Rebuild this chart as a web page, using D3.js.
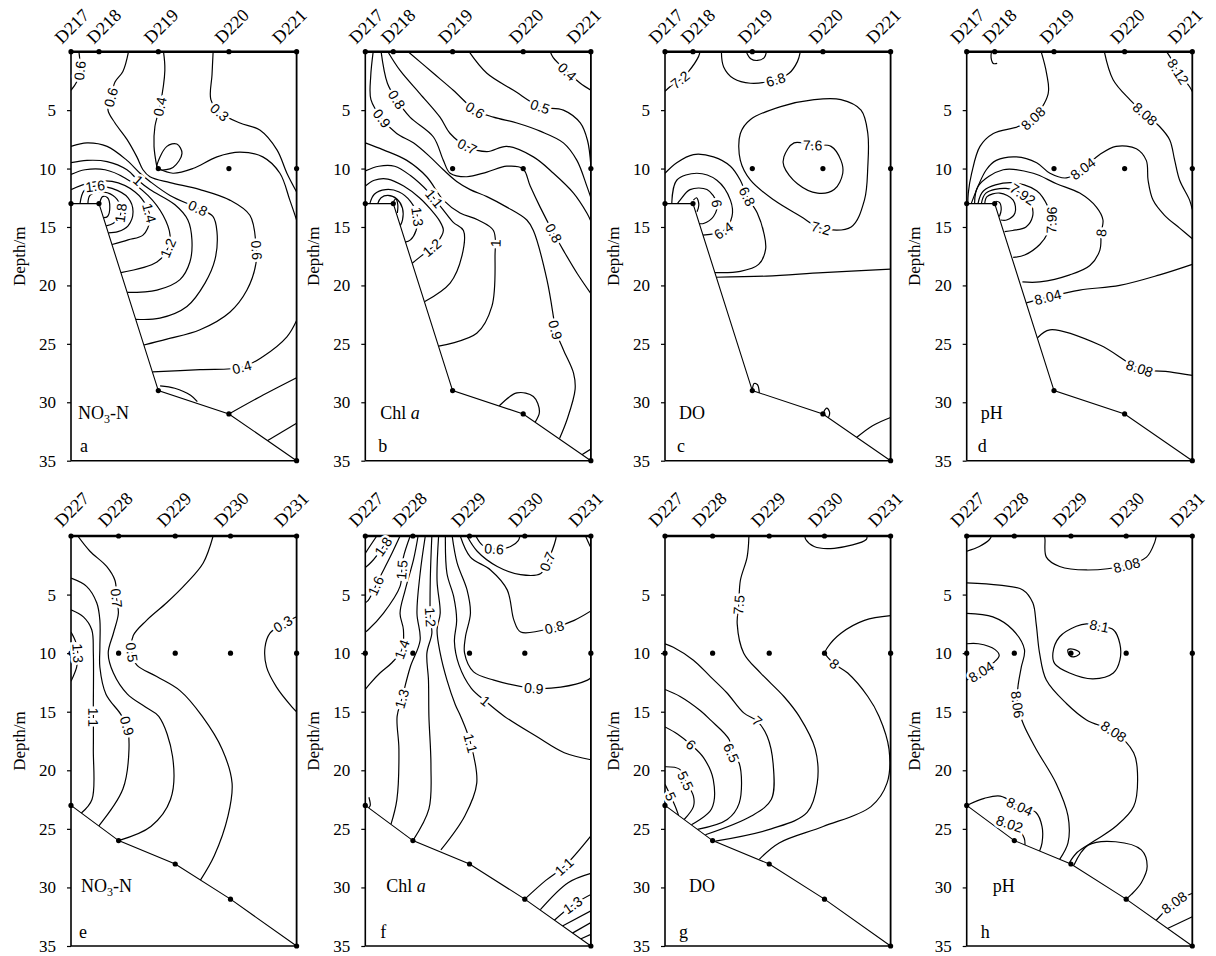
<!DOCTYPE html>
<html><head><meta charset="utf-8">
<script src="https://cdn.jsdelivr.net/npm/d3@7"></script>
<style>body{margin:0;background:#fff}</style>
</head><body>
<svg id="chart" width="1216" height="956"></svg>
<script>
// ---------------- data ----------------
const depthTicks = [5, 10, 15, 20, 25, 30, 35];
const topStations = ["D217", "D218", "D219", "D220", "D221"];
const topStationPos = [0, 12.4, 38.7, 70, 100];
const topBottomDepth = [13, 13, 29, 31, 35];
const topMidSamples = [false, false, true, true, true]; // sampled at 10 m
const botStations = ["D227", "D228", "D229", "D230", "D231"];
const botStationPos = [0, 21.1, 46.2, 70.7, 100];
const botBottomDepth = [23, 26, 28, 31, 35];
const botMidSamples = [true, true, true, true, true];

// contour lines: [distance % of section, depth m]; {loop:[...]} = closed
const no3TopLines = [
  [[3.5,0],[4,1.5],[2.5,2.6],[0,3.3]],
  [[25.5,0],[23,1.7],[19.5,2.6],[17.7,3.9],[16.4,5.0],[19.5,6.1],[24.8,7.5],[29.2,9.0],[31.9,10.1],[35,10.7],[43.9,11.2],[57.2,11.8],[70.4,12.7],[79.3,14.0],[82,16.5],[82,18.1],[78,20.4],[70.4,22.3],[57.2,23.8],[42.5,24.6],[32.3,25.1]],
  [[0,8.1],[7.1,7.8],[16,8.1],[24.8,9.3],[30.6,10.4],[35,11.1],[43.9,12.3],[56.3,13.4],[62.9,14.1],[64.7,15.4],[63.8,17.8],[59.4,19.8],[51.4,21.8],[39.4,22.8],[28.7,22.9]],
  [[0,9.5],[7.1,9.3],[16,9.4],[24.8,10.1],[29.7,11.0],[35,11.8],[46.1,13.1],[51.8,14.4],[53.6,16.1],[52.7,18.0],[48.3,19.5],[38.1,20.4],[24.9,20.6]],
  [[0,10.5],[6.2,10.1],[15.1,10.1],[23.9,10.8],[34.1,12.3],[40.8,14.0],[43.9,15.7],[43,16.8],[38.1,18.0],[22.1,18.9]],
  [[0,11.8],[8.4,11.2],[18.2,11.1],[28.4,12.0],[33.7,13.3],[35,14.4],[31.9,15.7],[25.3,16.1],[18.2,16.5]],
  [[4,13],[5.8,11.9],[10.6,11.5],[18.2,11.7],[25.3,12.5],[27.5,13.7],[25.3,14.9],[20.8,15.4],[16.5,15.5]],
  [[7.5,13],[8.4,12.3],[12.8,12.0],[18.6,12.3],[21.7,13.1],[21.7,14.1],[18.6,14.7],[15.6,14.9]],
  [[12.8,12.9],[14,12.4],[16.2,12.5],[17.2,13.3],[16.2,14.1],[14.5,14.2]],
  [[41,0],[41.6,1.6],[39.4,4.7],[37.2,6.4],[36.8,8.1],[38.1,9.9]],
  {loop:[[38.1,9.9],[42.5,8.1],[46.9,7.9],[49.2,8.7],[45.2,9.9],[39.4,10.1]]},
  [[38.7,10],[45.2,10.4],[54,10.0],[64.7,9.0],[74.9,8.6],[85,9.0],[92.6,10.4],[97,12.7],[100,14.4]],
  [[63,0],[62.5,2.0],[62,4.1],[66,5.2],[74.9,6.1],[83.7,6.7],[91.3,8.4],[95.7,10.4],[100,12.0]],
  [[36.1,27.4],[57.2,27.2],[75.8,27.0],[85,26.1],[95.7,24.4],[100,23.0]],
  [[39.5,28.6],[46,28.8],[53,29.4],[56,29.95]],
  [[70,31],[84,29.5],[100,27.9]],
  [[87,33.3],[100,31.8]]
];
const no3TopLabels = [["0.6",3.7,1.6],["0.6",17.7,3.9],["0.6",82,17],["0.4",39.4,4.7],["0.3",66,5.2],["0.8",56.3,13.4],["1",29.7,11.0],["1.2",43,16.8],["1.4",34.5,13.8],["1.6",10.6,11.5],["1.8",21.7,13.8],["0.4",75.8,27.0]];

const chlTopLines = [
  [[82,0],[83.3,0.5],[89.5,1.7],[95.3,2.7],[100,3.3]],
  [[46,0],[53.9,1.85],[65.7,3.3],[77.5,4.7],[87.8,5.0],[95.3,6.1],[98.5,7.6],[100,9.8]],
  [[19,0],[30.2,1.85],[39,3.3],[48.7,5.0],[56.8,5.6],[67.2,6.1],[77.5,6.8],[87.8,7.8],[93.8,9.3],[98.2,11.5],[100,12.5]],
  [[10,0],[15.4,1.6],[24.3,3.6],[33.1,5.6],[37.6,7.0],[45,8.1],[53.9,8.55],[62.7,8.1],[74.5,9.0],[83.4,10.4],[92.3,12.1],[98.2,13.8],[100,14.5]],
  [[7,0],[9.8,2.7],[13.9,4.1],[19.8,5.6],[30.2,7.3],[34.6,9.3],[37.6,10.4],[45,10.7],[53.9,10.3],[62.7,9.8],[69.8,10],[73.1,11.5],[77.5,13.3],[83.4,15.5],[87.8,17],[94,19],[100,20.7]],
  [[3.5,0],[2.4,2.1],[2.5,4.1],[7.3,5.7],[13.9,7.0],[21.3,7.8],[28.7,9.0],[34.6,10.1],[40.5,11.1],[46.5,11.8],[53.9,12.4],[62.7,13.3],[71.6,14.4],[74.5,15.3],[80.5,19.5],[83.4,22.7],[84.2,23.8],[87.8,25.5],[92.3,27.5],[93,28.9],[89.4,31.5],[86.1,33.1]],
  [[0,7.8],[8,8.4],[18.4,9.3],[27.2,10.7],[34.6,12.7],[42,13.8],[50,14.4],[56.8,15.3],[57.5,17.5],[56.1,21.8],[49.4,24.1],[32.5,25.2]],
  [[0,10.2],[6,9.8],[13,9.8],[20,10.6],[28,12.0],[34,13.4],[39,14.6],[43.5,15.3],[42.8,17.5],[37.6,19.8],[26.2,21.4]],
  [[0,11.5],[4,11.0],[10,10.9],[17,11.5],[24,12.5],[29,13.5],[33,14.5],[34.6,15.3],[32,16.3],[28.7,16.9],[24,17.6],[20.8,18.1]],
  [[2,13],[4,12.2],[9,11.8],[15,12.0],[20,12.8],[23,14.0],[22.5,15.3],[20,16.1],[17.6,16.3]],
  [[5.5,13],[7,12.5],[10,12.3],[14,12.6],[16.5,13.4],[16.5,14.4],[15.5,14.9]],
  [[12.6,12.8],[13.5,12.6],[14.4,13.1],[14.2,13.8]],
  [[59.4,30.3],[67.2,29.2],[74.5,29.5],[77.2,30.8],[75.3,31.7]],
  [[96,34.5],[100,34]]
];
const chlTopLabels = [["0.4",89.5,1.7],["0.5",77.5,4.7],["0.6",48.7,5.0],["0.7",45,8.1],["0.8",13.9,4.1],["0.9",7.3,5.7],["1.1",30.5,12.6],["1.3",23,14.1],["1.2",28.7,16.6],["1",57.2,16.4],["0.8",83.4,15.5],["0.9",84.2,23.8]];

const doTopLines = [
  [[15.5,0],[14.9,0.4],[10.4,1.7],[6.7,2.4],[2.2,3.0],[0,3.4]],
  [[25,0],[26,1.3],[30.4,2.3],[37.9,2.7],[49,2.4],[55,1.85],[58.7,0.85],[60,0]],
  [[36,0],[38,0.6],[41,0.75],[44,0.5],[45,0]],
  {loop:[[33.4,7.0],[37.9,5.8],[51.3,4.7],[66.1,4.1],[78,4.1],[86.9,5.0],[89.9,7.0],[89.9,9.8],[88.4,12.7],[82.5,15],[69.1,15.1],[60.2,14.1],[48.3,12.7],[37.9,11],[33.4,9.3]]},
  {loop:[[57.2,7.8],[65.4,8.0],[73.6,8.1],[78,9.3],[78.8,10.4],[75,11.8],[67.6,12.1],[58.7,11.3],[52.7,9.8],[52.7,9.0]]},
  [[0,10.4],[5.2,9.5],[12.6,8.8],[21.5,9.0],[29,9.8],[33.4,11.0],[36.4,12.4],[40.9,13.8],[43.8,15.5],[44.6,16.9],[41.5,18.2],[33.4,18.8],[22.1,18.9]],
  [[3,13],[5.2,11.0],[14.1,10.4],[23,11.0],[29,12.7],[29.7,14.1],[26,15.3],[16.8,15.7]],
  [[5.5,13],[6.7,12.7],[11.1,11.8],[18.6,11.8],[23,13.0],[21.5,14.1],[17.1,14.7],[15.1,14.7]],
  [[12.6,12.7],[14,12.5],[15,13.1],[14.2,13.7]],
  [[22.6,19.3],[45,19.2],[70,18.9],[100,18.6]],
  [[38.7,29],[39.5,28.4],[41,28.5],[41.8,29.2]],
  {loop:[[70.5,30.8],[71.8,30.5],[73,30.9],[72,31.4]]},
  [[85,33.0],[92,32.0],[100,31.3]]
];
const doTopLabels = [["7.2",6.7,2.4],["6.8",49,2.4],["7.6",65.4,8.0],["7.2",69.1,15.1],["6.8",36.4,12.4],["6",23,13.0],["6.4",26,15.3]];

const phTopLines = [
  [[11,0],[10.8,0.5],[11.8,1.0],[13.5,1.0]],
  [[33,0],[35.4,1.85],[36.1,3.6],[29.5,5.7],[22.8,6.4],[11.8,7.0],[5.9,8.1],[2.2,10.4],[0.7,12.1],[0.5,13]],
  [[61,0],[64.9,2.4],[72.3,4.1],[78.9,5.3],[85.5,6.4],[90,7.55],[92.2,9.3],[94.4,11],[98.8,12.7],[100,13.5]],
  [[88.5,0],[90,0.4],[93.7,1.7],[98.8,3.0],[100,3.4]],
  [[2,13],[8.7,10.1],[13.1,9.3],[22,9.0],[31,9.5],[36.9,10.4],[44.2,10.8],[51.6,10.0],[59,8.8],[66.2,8.1],[75.2,8.3],[79.6,9.3],[80.4,11],[82.6,12.7],[87.7,14],[94.4,15.1],[100,16]],
  [[3.5,13],[5.1,11.5],[16.2,10.1],[29.5,10.4],[39.8,11.3],[50.1,12.1],[57.5,13.3],[60.4,14.4],[59.6,15.5],[59,17],[54.6,18.3],[45.7,19.1],[32.4,19.7],[24.7,19.7]],
  [[5,13],[7.5,11.9],[19.2,11.2],[31,11.9],[36.1,13.3],[37.6,14.4],[36,15.5],[32.4,16.5],[25.7,17.4],[20.6,17.6]],
  [[6.5,13],[8.5,12.1],[17.4,11.7],[24.8,12.2],[28.5,13.0],[29.2,14.1],[26.3,15.0],[20.4,15.3],[16.8,15.4]],
  [[8,13],[9,12.4],[14.7,12.1],[20.6,12.7],[21.4,13.8],[17.7,14.4],[15.1,14.4]],
  [[12.9,12.8],[14.5,12.9],[15.3,13.5],[14.5,14.1]],
  [[26.4,21.5],[36,21],[50.1,20.4],[67.8,20],[85.5,19.1],[100,18.2]],
  [[31.3,24.5],[36.9,23.8],[59,25.1],[76.7,27.1],[90,27.4],[100,27.7]]
];
const phTopLabels = [["8.08",29.5,5.7],["8.08",78.9,5.3],["8.12",93.7,1.7],["8.04",51.6,10.0],["8",59.6,15.5],["7.96",37.6,14.4],["7.92",24.8,12.2],["8.04",36,21],["8.08",76.7,27.1]];

const no3BotLines = [
  [[3,0],[8.4,1.3],[15.8,2.6],[19.5,3.8],[20.2,5.3],[21,6.6],[18.8,8.3],[16.5,10.0],[18.8,11.7],[25,13.5],[33,14.6],[38.9,15.4],[45,18.8],[44.1,22.5],[35.4,24.8],[21.1,26]],
  [[0,3.6],[6.9,4.3],[11.4,5.7],[12.8,7.2],[12.8,9.5],[12.8,11.2],[15.5,13.5],[22,15.2],[24.8,16.2],[25.7,18.2],[23,21.6],[12.1,24.8]],
  [[0,6.3],[5.5,6.9],[9.2,8.0],[9.9,10],[9.9,14.6],[9.9,18.2],[9.3,22.5],[4.6,23.65]],
  [[0,8.2],[2,9],[3,10],[2.5,11.2],[0,12.4]],
  [[63,0],[58.6,2.3],[51.3,4.0],[42.4,5.7],[33.5,7.2],[27.6,8.5],[26.9,9.9],[29.1,11.0],[38,12.0],[48.3,13.2],[58.2,15.4],[67,18.2],[71.4,21.1],[69.6,23.9],[63.5,27.3],[57.3,29.4]],
  [[100,6.9],[94,7.5],[88.2,8.3],[86,9.5],[86.7,11.2],[91.1,12.9],[98,14.6],[100,15]]
];
const no3BotLabels = [["0.7",20.2,5.3],["0.5",26.9,9.9],["1.3",3,10],["1.1",9.9,15.5],["0.9",24.8,16.2],["0.3",94,7.5]];

const chlBotLines = [
  [[5.1,0],[0.6,1.3],[0,1.5]],
  [[11,0],[8,0.9],[2.8,2.2],[0,2.7]],
  [[15.4,0],[11,1.8],[6.5,3.5],[1.3,5.5],[0,5.7]],
  [[19.9,0],[16.9,1.8],[16.2,2.9],[15.4,4.3],[8,6.6],[1.3,8.0],[0,8.2]],
  [[23.4,0],[21.4,2.0],[17.7,4.6],[15.4,6.6],[16.9,8.0],[16.2,9.7],[11.9,10.8],[6.5,11.7],[2.1,12.6],[0,13.1]],
  [[26.6,0],[24.3,3.2],[22.9,6.6],[24.3,8.9],[19.9,11.2],[16.2,13.9],[14.1,15.4],[14.9,18.2],[14,22.5],[11.4,24.6]],
  [[29.5,0],[28.8,3.8],[28.8,6.9],[29.5,8.3],[27.3,10.0],[28,12.3],[28.2,15.4],[29.1,19.6],[28.2,23.3],[21.1,26]],
  [[32.5,0],[31.8,3.8],[33.2,6.6],[31.8,8.0],[33.2,10],[36.2,12.3],[39.9,14.4],[42.3,15.4],[46.7,17.7],[49.4,21.1],[44.1,23.9],[33.5,26.8]],
  [[35.5,0],[36.2,3.2],[39.2,5.2],[40.5,7.2],[39.5,9],[41.5,11],[47,13],[53.3,14.1],[61.7,15.4],[75.8,17.1],[88.2,18.5],[100,19.1]],
  [[38.5,0],[40.7,2.3],[45.1,4.6],[46.6,6.6],[44.4,8.6],[44,10],[48,11.6],[57,12.3],[74.8,13.0],[86.6,12.9],[98.5,12.3],[100,12.1]],
  [[42.1,0],[46.6,1.8],[55.5,2.9],[62.9,4.6],[65.9,7.2],[68.9,8.2],[83.7,7.8],[92.6,7.2],[100,6.4]],
  [[45.1,0],[49.6,1.3],[58.5,2.6],[68.8,3.3],[77.8,3.2],[80.7,2.2],[84.4,0.3],[84.6,0]],
  [[49,0],[52,0.8],[57,1.1],[64.4,0.9],[67.8,0.4],[68.5,0]],
  [[97.6,0],[99.7,0.9]],
  [[70.7,31],[80,29.4],[88.2,28.2],[100,25.6]],
  [[77.6,31.9],[89.9,29.6],[100,28.8]],
  [[83.8,32.8],[92,31.5],[100,30.6]],
  [[87.4,33.3],[100,32.0]],
  [[91.8,33.9],[100,33.0]],
  [[95.4,34.4],[100,34.0]],
  [[1.6,22.3],[2.2,23.0],[1.5,23.2]]
];
const chlBotLabels = [["1.8",8.8,1.0],["1.6",5,4.3],["1.5",16.2,2.9],["1.2",28.8,6.9],["1.4",16.2,9.7],["1.3",16.2,13.9],["1",53.3,14.1],["1.1",46.7,17.7],["0.9",74.8,13],["0.8",83.7,7.8],["0.7",80.7,2.2],["0.6",57,1.1],["1.1",88.2,28.2],["1.3",92,31.5]];

const doBotLines = [
  [[62,0],[62.4,0.3],[66.1,0.9],[75,1.05],[89.2,0.3],[89.5,0]],
  [[37.2,0],[36.4,1.8],[33.4,3.8],[32.7,5.9],[32,7.5],[34.9,10.0],[42.4,11.7],[52.7,13.7],[59.5,15.4],[66.6,18.2],[67.5,21.1],[63,23.6],[47.1,25.0],[22.3,26.05]],
  [[100,6.8],[88.4,7.2],[78,8.3],[72.1,9.5],[71,10],[75,10.9],[81,11.7],[89.9,13.7],[94.9,15.4],[99.3,18.2],[98.4,21.1],[91.3,23.1],[70.1,24.8],[50.6,26.2],[41.8,27.6]],
  [[0,9.2],[3.7,9.5],[12.6,10.6],[20.1,12.0],[27.5,13.4],[34.9,15.1],[40.9,15.8],[45.3,17.1],[48,19.6],[47.1,22.5],[38.3,23.9],[17.9,25.5]],
  [[0,13.1],[6.7,13.7],[15.6,14.9],[20.1,15.7],[28.5,17.4],[29.4,18.5],[32.9,19.4],[32.9,22.8],[27.6,24.2],[14.4,25.05]],
  [[0,16.3],[5.5,16.9],[11.4,17.8],[17,18.9],[21.4,20.8],[20.6,23.3],[11.7,24.65]],
  [[0,19.7],[6.4,19.9],[9.1,20.9],[12.6,22.2],[12.6,23.1],[8.5,24.2]],
  [[0,21.2],[2.5,22.2],[5,23.3],[6,23.85]]
];
const doBotLabels = [["7.5",32.7,5.9],["8",75,10.9],["7",40.9,15.8],["6.5",29.4,18.5],["6",11.4,17.8],["5.5",9.1,20.9],["5",2.5,22.2]];

const phBotLines = [
  [[0,1.3],[5.6,0.9],[10.1,0.3],[11,0]],
  [[34.5,0],[34.7,0.3],[35.3,1.8],[41.2,2.6],[53.1,2.9],[70.8,2.5],[79.7,1.8],[83.4,0.5],[84,0]],
  [[0,4.0],[14.5,4.2],[24.9,4.6],[29.3,5.7],[30.8,7.5],[32.3,10.0],[35.3,12.3],[44.2,14.3],[53.1,15.7],[65.2,16.7],[74,18.5],[75.7,20.2],[74,23.1],[66,24.8],[56.8,26.0],[49,27.0],[45.5,27.9]],
  [[0,6.6],[11.6,6.9],[20.4,8.0],[25.6,9.7],[24.2,11.2],[22.7,12.9],[22.5,14.4],[25.2,16.1],[30.8,18.2],[39.6,21.1],[44.9,23.9],[44.9,26.2],[41.2,27.6]],
  [[0,9.2],[5.2,9.2],[12.6,9.7],[14.4,10.2],[12,10.8],[6.4,11.6],[0,12.3]],
  {loop:[[38.2,10.0],[41.2,8.6],[48.6,7.7],[53.1,7.5],[59,7.7],[65,8.0],[67.9,9.2],[67.9,10.6],[65,11.7],[56,12.2],[45.6,11.7],[39,10.9]]},
  {loop:[[44.9,9.7],[47.9,9.7],[50.1,10],[47.9,10.3],[45.6,10.2]]},
  [[0,23],[7.8,22.4],[14.9,22.2],[23.6,23.1],[30.7,23.6],[33.4,24.8],[33.4,26.2],[32.3,26.9]],
  [[12.5,24.8],[17,24.5],[22,24.9],[25.5,25.8],[25.8,26.4]],
  [[47.5,28.1],[53.8,26.4],[66,26.1],[77.4,26.8],[80,28.2],[77.4,29.6],[73,30.6],[70.7,31]],
  [[84,32.8],[92,31.3],[100,30.5]],
  [[89,33.5],[100,32.5]]
];
const phBotLabels = [["8.08",70.8,2.5],["8.1",59,7.6],["8.04",6.4,11.6],["8.06",22.5,14.4],["8.08",65.2,16.7],["8.04",23.6,23.1],["8.02",19,24.6],["8.08",92,31.3]];

// ---------------- layout ----------------
const svg = d3.select("#chart");
const defs = svg.append("defs");
const rows = [
  {top: 51.7, bottom: 460.7, stations: topStations, pos: topStationPos, bed: topBottomDepth, mid: topMidSamples,
   labDx: [-9,-5,-7,-7,-17], labDy: -7, nameDy: 367, letterDy: 400},
  {top: 536, bottom: 946, stations: botStations, pos: botStationPos, bed: botBottomDepth, mid: botMidSamples,
   labDx: [-9,-13,-11,-9,-15], labDy: -8, nameDy: 356, letterDy: 402}
];
const lefts = [71, 365.3, 665, 966.7];
const panelW = 225.6;
const panels = [
  {row:0, col:0, lines:no3TopLines, labels:no3TopLabels, name:"no3", letter:"a", nameDx:7, letterDx:9},
  {row:0, col:1, lines:chlTopLines, labels:chlTopLabels, name:"chl", letter:"b", nameDx:15, letterDx:13},
  {row:0, col:2, lines:doTopLines, labels:doTopLabels, name:"DO", letter:"c", nameDx:14, letterDx:12},
  {row:0, col:3, lines:phTopLines, labels:phTopLabels, name:"pH", letter:"d", nameDx:14, letterDx:11},
  {row:1, col:0, lines:no3BotLines, labels:no3BotLabels, name:"no3", letter:"e", nameDx:10, letterDx:8},
  {row:1, col:1, lines:chlBotLines, labels:chlBotLabels, name:"chl", letter:"f", nameDx:21, letterDx:15},
  {row:1, col:2, lines:doBotLines, labels:doBotLabels, name:"DO", letter:"g", nameDx:24, letterDx:14},
  {row:1, col:3, lines:phBotLines, labels:phBotLabels, name:"pH", letter:"h", nameDx:26, letterDx:14}
];

const serif = "'Liberation Serif','Times New Roman',serif";
const sans = "'Liberation Sans',Arial,sans-serif";

panels.forEach((p, i) => {
  const R = rows[p.row];
  const L = lefts[p.col];
  const x = d3.scaleLinear().domain([0, 100]).range([L, L + panelW]);
  const y = d3.scaleLinear().domain([0, 35]).range([R.top, R.bottom]);
  const g = svg.append("g");

  const bed = R.pos.map((u, k) => [u, R.bed[k]]);
  const water = [[0, 0], [100, 0]].concat(bed.slice().reverse());
  defs.append("clipPath").attr("id", "clip" + i)
    .append("path")
    .attr("d", d3.line().x(d => x(d[0])).y(d => y(d[1]))(water) + "Z");

  const lineOpen = d3.line().x(d => x(d[0])).y(d => y(d[1])).curve(d3.curveCatmullRom.alpha(0.5));
  const lineClosed = d3.line().x(d => x(d[0])).y(d => y(d[1])).curve(d3.curveCatmullRomClosed.alpha(0.5));

  const cg = g.append("g").attr("clip-path", `url(#clip${i})`);
  const paths = [];
  p.lines.forEach(ln => {
    const closed = !Array.isArray(ln);
    const pts = closed ? ln.loop : ln;
    const el = cg.append("path")
      .attr("d", closed ? lineClosed(pts) : lineOpen(pts))
      .attr("fill", "none").attr("stroke", "#000").attr("stroke-width", 1.2);
    paths.push(el.node());
  });

  g.append("path").attr("d", d3.line().x(d => x(d[0])).y(d => y(d[1]))(bed))
    .attr("fill", "none").attr("stroke", "#000").attr("stroke-width", 1.1);

  g.append("line").attr("x1", x(0)).attr("x2", x(0)).attr("y1", y(0)).attr("y2", y(35)).attr("stroke", "#000").attr("stroke-width", 1.6);
  g.append("line").attr("x1", x(100)).attr("x2", x(100)).attr("y1", y(0)).attr("y2", y(35)).attr("stroke", "#000").attr("stroke-width", 1.8);
  g.append("line").attr("x1", x(0)).attr("x2", x(100)).attr("y1", y(35)).attr("y2", y(35)).attr("stroke", "#000").attr("stroke-width", 1.6);
  g.append("line").attr("x1", x(0)).attr("x2", x(100)).attr("y1", y(0)).attr("y2", y(0)).attr("stroke", "#000").attr("stroke-width", 2.4);

  const ax = g.append("g").attr("transform", `translate(${x(0)},0)`)
    .call(d3.axisLeft(y).tickValues(depthTicks).tickSize(4).tickSizeOuter(0).tickPadding(11).tickFormat(d3.format("d")));
  ax.select(".domain").remove();
  ax.selectAll("line").attr("stroke", "#000").attr("stroke-width", 1.2);
  ax.selectAll("text").attr("font-family", serif).attr("font-size", 17).attr("fill", "#000");
  g.append("text").attr("transform", `translate(${x(0) - 52},${(R.top + R.bottom) / 2}) rotate(-90)`)
    .attr("text-anchor", "middle").attr("dominant-baseline", "central")
    .attr("font-family", serif).attr("font-size", 17).text("Depth/m");

  const dots = [];
  R.pos.forEach((u, k) => {
    dots.push([u, 0]);
    if (R.mid[k] && R.bed[k] > 10) dots.push([u, 10]);
    dots.push([u, R.bed[k]]);
  });
  g.selectAll("circle.s").data(dots).enter().append("circle")
    .attr("cx", d => x(d[0])).attr("cy", d => y(d[1])).attr("r", 2.6).attr("fill", "#000");

  R.stations.forEach((s, k) => {
    const px = x(R.pos[k]) + R.labDx[k], py = y(0) + R.labDy;
    g.append("text").attr("transform", `translate(${px},${py}) rotate(-45)`)
      .attr("font-family", serif).attr("font-size", 18).text(s);
  });

  p.labels.forEach(([txt, u, d]) => {
    const tx = x(u), ty = y(d);
    let best = null;
    paths.forEach(pn => {
      const len = pn.getTotalLength();
      for (let l = 0; l <= len; l += 0.7) {
        const pt = pn.getPointAtLength(l);
        const dd = (pt.x - tx) ** 2 + (pt.y - ty) ** 2;
        if (!best || dd < best.dd) best = {dd, pn, l, len, pt};
      }
    });
    if (!best) return;
    const a = best.pn.getPointAtLength(Math.max(0, best.l - 4));
    const b = best.pn.getPointAtLength(Math.min(best.len, best.l + 4));
    let ang = Math.atan2(b.y - a.y, b.x - a.x) * 180 / Math.PI;
    if (ang > 90) ang -= 180;
    if (ang < -90) ang += 180;
    g.append("text").attr("transform", `translate(${best.pt.x},${best.pt.y}) rotate(${ang})`)
      .attr("text-anchor", "middle").attr("dominant-baseline", "central")
      .attr("font-family", sans).attr("font-size", 14)
      .attr("stroke", "#fff").attr("stroke-width", 5).attr("paint-order", "stroke")
      .attr("fill", "#000").text(txt);
  });

  const nt = g.append("text").attr("x", x(0) + p.nameDx).attr("y", R.top + R.nameDy)
    .attr("font-family", serif).attr("font-size", 18);
  if (p.name === "no3") {
    nt.append("tspan").text("NO");
    nt.append("tspan").attr("font-size", 12).attr("dy", 4).text("3");
    nt.append("tspan").attr("dy", -4).text("-N");
  } else if (p.name === "chl") {
    nt.append("tspan").text("Chl ");
    nt.append("tspan").attr("font-style", "italic").text("a");
  } else nt.text(p.name);
  g.append("text").attr("x", x(0) + p.letterDx).attr("y", R.top + R.letterDy)
    .attr("font-family", serif).attr("font-size", 18).text(p.letter);
});
</script>
</body></html>
